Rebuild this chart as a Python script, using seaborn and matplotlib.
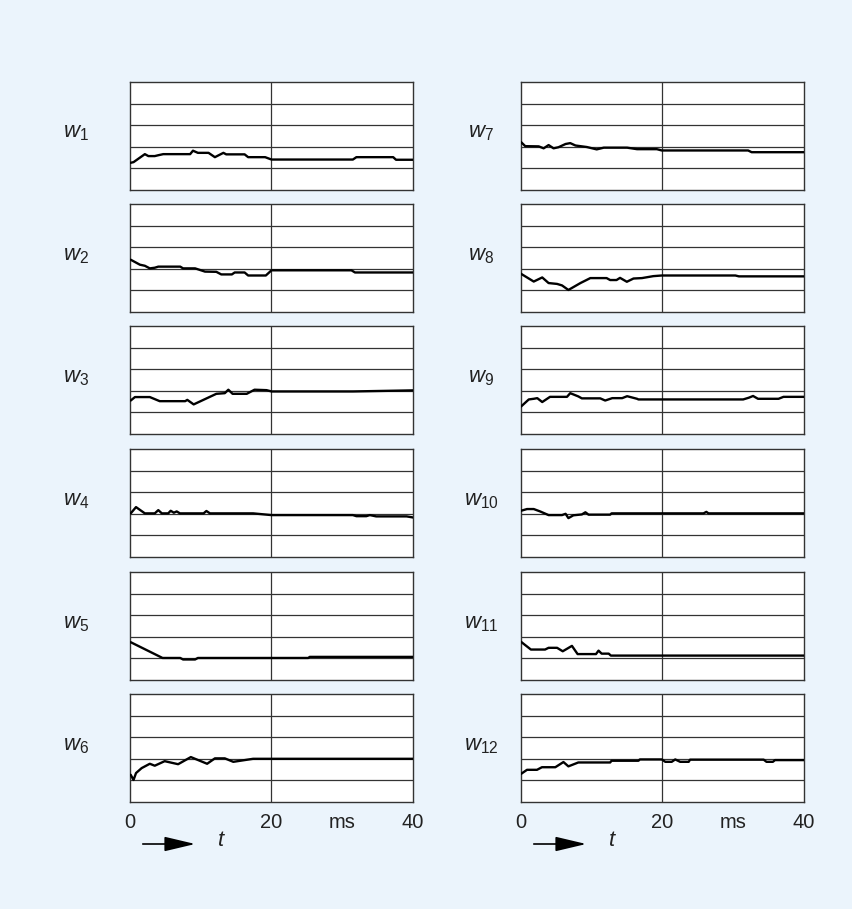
import matplotlib
matplotlib.use("Agg")
import matplotlib.pyplot as plt
import seaborn as sns
import pandas as pd

sns.set_theme(style="white")
plt.rcParams["font.family"] = ["Liberation Sans", "DejaVu Sans"]
plt.rcParams["mathtext.fontset"] = "custom"
plt.rcParams["mathtext.rm"] = "Liberation Sans"
plt.rcParams["mathtext.it"] = "Liberation Sans:italic"

# Weight trajectories: time in ms, value in grid units (5 bands per panel)
t_w1 = [0.1, 0.5, 2.1, 2.6, 3.5, 4.0, 4.7, 8.5, 8.9, 9.6, 11.1, 12.0, 13.2, 13.6, 16.2, 16.7, 19.1, 20.0, 31.5, 32.0, 37.2, 37.6, 40]
v_w1 = [1.26, 1.29, 1.66, 1.57, 1.57, 1.61, 1.66, 1.66, 1.82, 1.72, 1.72, 1.52, 1.72, 1.65, 1.65, 1.52, 1.52, 1.41, 1.41, 1.52, 1.52, 1.40, 1.40]

t_w2 = [0.1, 1.4, 2.1, 2.8, 3.5, 4.0, 7.1, 7.5, 9.2, 10.6, 12.2, 12.9, 14.4, 14.8, 16.2, 16.7, 19.2, 20.0, 31.3, 31.8, 40]
v_w2 = [2.42, 2.19, 2.14, 2.02, 2.05, 2.10, 2.10, 2.02, 2.02, 1.87, 1.86, 1.74, 1.74, 1.83, 1.83, 1.69, 1.69, 1.93, 1.93, 1.83, 1.83]

t_w3 = [0.1, 0.7, 2.8, 4.2, 7.8, 8.1, 9.0, 12.2, 13.4, 13.9, 14.5, 16.5, 17.6, 19.3, 20.0, 31.5, 40]
v_w3 = [1.55, 1.71, 1.71, 1.52, 1.52, 1.58, 1.37, 1.86, 1.89, 2.05, 1.86, 1.86, 2.05, 2.03, 1.97, 1.97, 2.02]

t_w4 = [0.1, 0.85, 2.1, 3.5, 4.0, 4.5, 5.4, 5.75, 6.2, 6.6, 7.06, 10.4, 10.8, 11.3, 17.4, 20.0, 31.5, 32.0, 33.4, 33.9, 34.8, 39.1, 40]
v_w4 = [2.02, 2.31, 2.02, 2.02, 2.17, 2.02, 2.02, 2.14, 2.05, 2.11, 2.02, 2.02, 2.13, 2.02, 2.02, 1.94, 1.94, 1.89, 1.89, 1.94, 1.88, 1.88, 1.83]

t_w5 = [0.1, 4.6, 7.1, 7.5, 9.2, 9.6, 25.2, 25.4, 40]
v_w5 = [1.75, 1.02, 1.02, 0.95, 0.95, 1.02, 1.02, 1.07, 1.07]

t_w6 = [0.1, 0.5, 0.85, 1.65, 2.8, 3.5, 4.9, 6.8, 8.6, 10.9, 12.0, 13.4, 14.6, 17.4, 40]
v_w6 = [1.26, 1.02, 1.34, 1.57, 1.77, 1.68, 1.89, 1.75, 2.08, 1.77, 2.02, 2.02, 1.86, 2.00, 2.00]

t_w7 = [0.0, 0.6, 2.5, 3.2, 3.9, 4.6, 5.3, 6.3, 6.96, 7.7, 9.3, 10.7, 11.7, 15.0, 16.4, 19.2, 19.9, 32.1, 32.6, 40]
v_w7 = [2.22, 2.03, 2.02, 1.93, 2.08, 1.93, 1.98, 2.13, 2.17, 2.06, 1.99, 1.88, 1.96, 1.96, 1.89, 1.89, 1.83, 1.83, 1.75, 1.75]

t_w8 = [0.0, 1.8, 3.0, 3.9, 5.1, 5.8, 6.7, 8.4, 9.8, 12.1, 12.6, 13.5, 14.0, 14.96, 15.9, 17.1, 18.7, 19.9, 30.3, 30.8, 40]
v_w8 = [1.77, 1.41, 1.60, 1.34, 1.30, 1.23, 1.02, 1.34, 1.57, 1.57, 1.48, 1.48, 1.58, 1.40, 1.55, 1.57, 1.66, 1.69, 1.69, 1.65, 1.65]

t_w9 = [0.0, 1.1, 1.8, 2.3, 3.0, 4.1, 6.5, 6.96, 8.1, 8.6, 11.2, 11.9, 12.9, 14.3, 15.0, 16.4, 16.6, 19.9, 31.4, 32.2, 32.8, 33.5, 36.4, 37.1, 40]
v_w9 = [1.27, 1.60, 1.63, 1.66, 1.48, 1.72, 1.72, 1.89, 1.74, 1.65, 1.65, 1.55, 1.66, 1.66, 1.75, 1.63, 1.60, 1.60, 1.60, 1.68, 1.76, 1.63, 1.63, 1.72, 1.72]

t_w10 = [0.0, 0.85, 1.8, 2.7, 3.9, 5.8, 6.3, 6.7, 7.4, 8.6, 9.1, 9.55, 12.6, 12.8, 25.8, 26.2, 26.5, 40]
v_w10 = [2.14, 2.22, 2.22, 2.11, 1.94, 1.94, 2.00, 1.80, 1.93, 1.97, 2.07, 1.96, 1.96, 2.02, 2.02, 2.09, 2.02, 2.02]

t_w11 = [0.0, 1.4, 3.4, 3.9, 5.1, 5.9, 7.2, 8.0, 10.6, 10.96, 11.4, 12.4, 12.7, 40]
v_w11 = [1.77, 1.41, 1.41, 1.49, 1.49, 1.33, 1.58, 1.20, 1.20, 1.36, 1.22, 1.22, 1.13, 1.13]

t_w12 = [0.0, 0.85, 2.26, 2.96, 4.85, 6.0, 6.7, 8.1, 12.6, 12.8, 16.6, 16.8, 19.9, 20.4, 21.3, 21.8, 22.5, 23.7, 23.9, 34.3, 34.7, 35.6, 35.9, 40]
v_w12 = [1.30, 1.49, 1.49, 1.61, 1.61, 1.85, 1.65, 1.83, 1.83, 1.91, 1.91, 1.97, 1.97, 1.86, 1.86, 1.97, 1.86, 1.86, 1.96, 1.96, 1.86, 1.86, 1.94, 1.94]

series_t = [t_w1, t_w2, t_w3, t_w4, t_w5, t_w6, t_w7, t_w8, t_w9, t_w10, t_w11, t_w12]
series_v = [v_w1, v_w2, v_w3, v_w4, v_w5, v_w6, v_w7, v_w8, v_w9, v_w10, v_w11, v_w12]

x_ticks = [0, 20, 30, 40]
x_tick_labels = ["0", "20", "ms", "40"]

frames = []
for i, (ts, vs) in enumerate(zip(series_t, series_v), start=1):
    frames.append(pd.DataFrame({"weight": i, "t": ts, "value": vs}))
df = pd.concat(frames, ignore_index=True)

W, H = 853, 909
bg = "#ebf4fc"
fig = plt.figure(figsize=(W / 100, H / 100), dpi=100, facecolor=bg)

col_left = [130, 521]
label_cx = [76, 481]
row_top = [82, 204, 326, 449, 572, 694]
pw, ph = 283, 108
grid_col = "#333333"
text_col = "#222222"

for i in range(1, 13):
    col = (i - 1) // 6
    row = (i - 1) % 6
    x0 = col_left[col]
    y0 = row_top[row]
    ax = fig.add_axes([x0 / W, 1 - (y0 + ph) / H, pw / W, ph / H])
    ax.set_facecolor("white")
    for y in [1, 2, 3, 4]:
        ax.axhline(y, color=grid_col, lw=0.9, zorder=1)
    ax.axvline(20, color=grid_col, lw=0.9, zorder=1)
    sub = df[df["weight"] == i]
    sns.lineplot(data=sub, x="t", y="value", ax=ax, color="black", lw=1.7,
                 estimator=None, sort=False, zorder=3)
    ax.set_xlim(0, 40)
    ax.set_ylim(0, 5)
    ax.set_xlabel("")
    ax.set_ylabel("")
    ax.set_yticks([])
    for s in ax.spines.values():
        s.set_color(grid_col)
        s.set_linewidth(1.0)
    if row == 5:
        ax.set_xticks(x_ticks)
        ax.set_xticklabels(x_tick_labels, fontsize=14.5, color=text_col)
        ax.tick_params(axis="x", length=0, pad=8)
    else:
        ax.set_xticks([])
    # weight label to the left of the panel
    lx = label_cx[col] / W
    ly = 1 - (y0 + ph / 2 - 3) / H
    fig.text(lx, ly, rf"$w_{{{i}}}$", fontsize=16, color=text_col,
             ha="center", va="center")

# time arrows under each column
for x0 in col_left:
    fig.patches.append(matplotlib.patches.FancyArrowPatch(
        ((x0 + 10) / W, 1 - 844 / H), ((x0 + 68) / W, 1 - 844 / H),
        transform=fig.transFigure, arrowstyle="-|>,head_length=1.9,head_width=0.45",
        color="black", lw=1.2, mutation_scale=10))
    fig.text((x0 + 88) / W, 1 - 841 / H, "t", fontsize=16, style="italic",
             color=text_col, ha="left", va="center")

fig.savefig("out.png", dpi=100, facecolor=bg)
